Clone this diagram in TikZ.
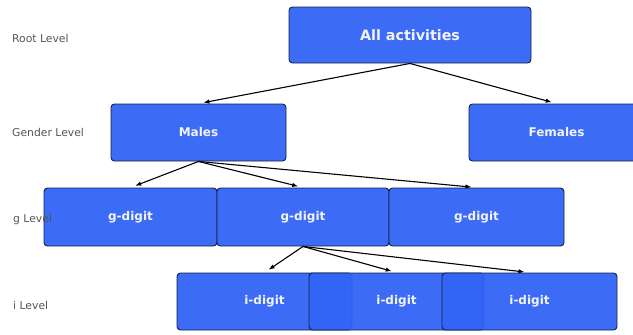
\documentclass[tikz,border=0pt]{standalone}
\usepackage{fontspec}
\setmainfont{DejaVu Sans}
\usetikzlibrary{arrows.meta}
\definecolor{boxfill}{RGB}{49,100,245}
\definecolor{boxline}{RGB}{22,32,70}
\definecolor{boxtext}{RGB}{242,244,250}
\definecolor{lvltext}{RGB}{85,85,85}
\tikzset{
  box/.style={draw=boxline, line width=0.9pt, fill=boxfill, fill opacity=0.95, text opacity=1,
    rounded corners=3.5pt, minimum height=57pt, inner sep=0pt,
    text=boxtext, font=\bfseries\fontsize{12}{14}\selectfont},
  lvl/.style={anchor=west, text=lvltext, inner sep=0pt, font=\fontsize{10.8}{13}\selectfont},
  arr/.style={-{Latex[length=6pt,width=4.5pt]}, line width=1.1pt, black, shorten >=5pt}
}
\begin{document}
\begin{tikzpicture}[x=1pt,y=-1pt]
\useasboundingbox (0,0) rectangle (633,335);
\clip (0,0) rectangle (633,335);
\node[box, minimum width=242pt, minimum height=56pt, font=\bfseries\fontsize{14.3}{16}\selectfont] (root) at (410,35) {All activities};
\node[box, minimum width=175pt] (males) at (198.5,132.5) {Males};
\node[box, minimum width=175pt] (females) at (556.5,132.5) {Females};
\node[box, minimum width=173pt, minimum height=58pt] (g1) at (130.5,217) {g-digit};
\node[box, minimum width=172pt, minimum height=58pt] (g2) at (303,217) {g-digit};
\node[box, minimum width=175pt, minimum height=58pt] (g3) at (476.5,217) {g-digit};
\node[box, minimum width=175pt] (i1) at (264.5,301.5) {i-digit};
\node[box, minimum width=175pt] (i2) at (396.5,301.5) {i-digit};
\node[box, minimum width=175pt] (i3) at (529.5,301.5) {i-digit};
\draw[arr] (root.south) -- (males.north);
\draw[arr] (root.south) -- (females.north);
\draw[arr] (males.south) -- (g1.north);
\draw[arr] (males.south) -- (g2.north);
\draw[arr] (males.south) -- (g3.north);
\draw[arr] (g2.south) -- (i1.north);
\draw[arr] (g2.south) -- (i2.north);
\draw[arr] (g2.south) -- (i3.north);
\node[lvl] (lroot) at (12,38) {Root Level};
\node[lvl] (lgender) at (12,132) {Gender Level};
\node[lvl] (lg) at (13,220) {g Level};
\node[lvl] (li) at (13,305) {i Level};
\end{tikzpicture}
\end{document}
